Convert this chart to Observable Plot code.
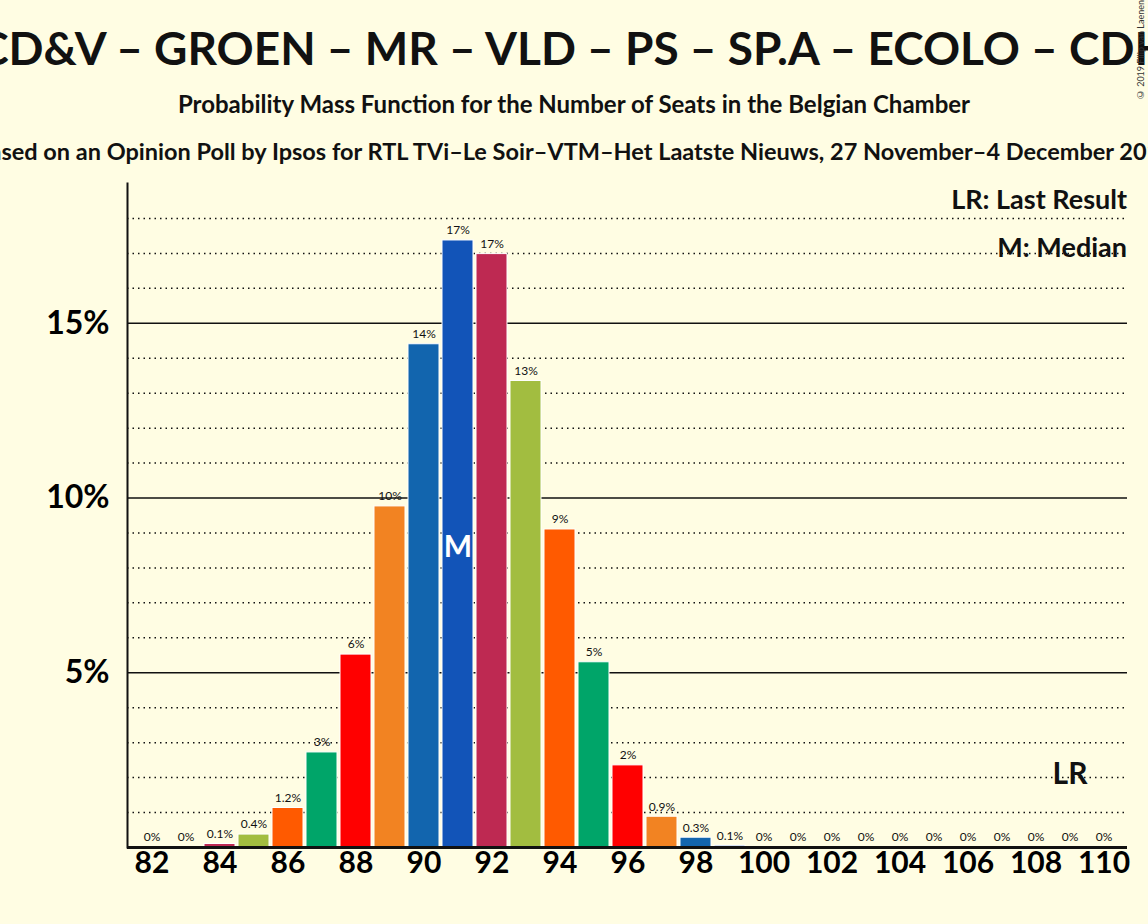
<!DOCTYPE html>
<html><head><meta charset="utf-8">
<script src="https://cdn.jsdelivr.net/npm/d3@7"></script>
<script src="https://cdn.jsdelivr.net/npm/@observablehq/plot@0.6"></script>
<style>
body{margin:0;background:#FFFDE3;font-family:Lato,sans-serif;}
#wrap{position:relative;width:1148px;height:924px;overflow:hidden;}
.t{position:absolute;text-align:center;white-space:nowrap;font-weight:bold;color:#111;}
</style></head><body>
<div id="wrap">
<div id="chart" style="position:absolute;left:0;top:0;"></div>
<div class="t" style="top:20px;font-size:46px;left:-300px;width:1748px;">CD&amp;V – GROEN – MR – VLD – PS – SP.A – ECOLO – CDH</div>
<div class="t" style="top:89px;font-size:24px;left:0;width:1148px;">Probability Mass Function for the Number of Seats in the Belgian Chamber</div>
<div class="t" style="top:137px;font-size:23.5px;left:-300px;width:1748px;">Based on an Opinion Poll by Ipsos for RTL TVi–Le Soir–VTM–Het Laatste Nieuws, 27 November–4 December 2019</div>
<div style="position:absolute;right:2px;top:0;font-size:9px;color:#333;writing-mode:vertical-rl;transform:rotate(180deg);">© 2019 Filip van Laenen</div>
</div>
<script>
const seats = d3.range(82,111);
const probs = [0,0,0.1,0.37,1.13,2.72,5.52,9.76,14.4,17.37,16.98,13.35,9.1,5.3,2.35,0.88,0.28,0.05,0,0,0,0,0,0,0,0,0,0,0];
const labels = ["0%","0%","0.1%","0.4%","1.2%","3%","6%","10%","14%","17%","17%","13%","9%","5%","2%","0.9%","0.3%","0.1%","0%","0%","0%","0%","0%","0%","0%","0%","0%","0%","0%"];
const palette = ["#1265AE","#1254B8","#BE2952","#A2BD40","#FF5A00","#00A569","#FF0000","#F28322"];
const median = 91, lastResult = 109;
const data = seats.map((s,i)=>({s, p:probs[i], l:labels[i], c:palette[(s-82)%8]}));
const minor = d3.range(1,19).filter(v=>v%5!==0);
const chart = Plot.plot({
  width:1148, height:924, marginLeft:127, marginRight:21, marginTop:183, marginBottom:77,
  style:{background:"transparent", fontFamily:"Lato, sans-serif"},
  x:{type:"band", domain:seats, range:[124,1130], padding:0.09, label:null},
  y:{domain:[0,19], label:null},
  marks:[
    Plot.ruleY(minor,{stroke:"#111",strokeDasharray:"1.5,4",strokeWidth:1.5}),
    Plot.ruleY([5,10,15],{stroke:"#111",strokeWidth:1.5}),
    Plot.barY(data,{x:"s",y:"p",fill:"c",stroke:"white",strokeWidth:1}),
    Plot.text(data,{x:"s",y:"p",text:"l",dy:-10,fontSize:12,fill:"#111"}),
    Plot.text([median],{x:d=>d,y:[8.6],text:["M"],fill:"white",fontSize:30,fontWeight:"bold"}),
    Plot.text([lastResult],{x:d=>d,y:[2.1],text:["LR"],fill:"#111",fontSize:30,fontWeight:"bold"}),
    Plot.frame({anchor:"left",stroke:"#111",strokeWidth:2}),
    Plot.ruleY([0],{stroke:"#111",strokeWidth:3}),
    Plot.axisX({tickSize:0,fontSize:30,fontWeight:"bold",tickFormat:d=>d%2===0?d:"",tickPadding:4}),
    Plot.axisY({ticks:[5,10,15],tickSize:0,tickFormat:d=>d+"%",fontSize:32,fontWeight:"bold",tickPadding:18})
  ]
});
const svg = d3.select(chart);
svg.append("text").attr("x",1127).attr("y",209).attr("text-anchor","end").attr("font-size",27).attr("font-weight","bold").attr("fill","#111").text("LR: Last Result");
svg.append("text").attr("x",1127).attr("y",257).attr("text-anchor","end").attr("font-size",27).attr("font-weight","bold").attr("fill","#111").text("M: Median");
document.getElementById("chart").append(chart);
</script></body></html>
